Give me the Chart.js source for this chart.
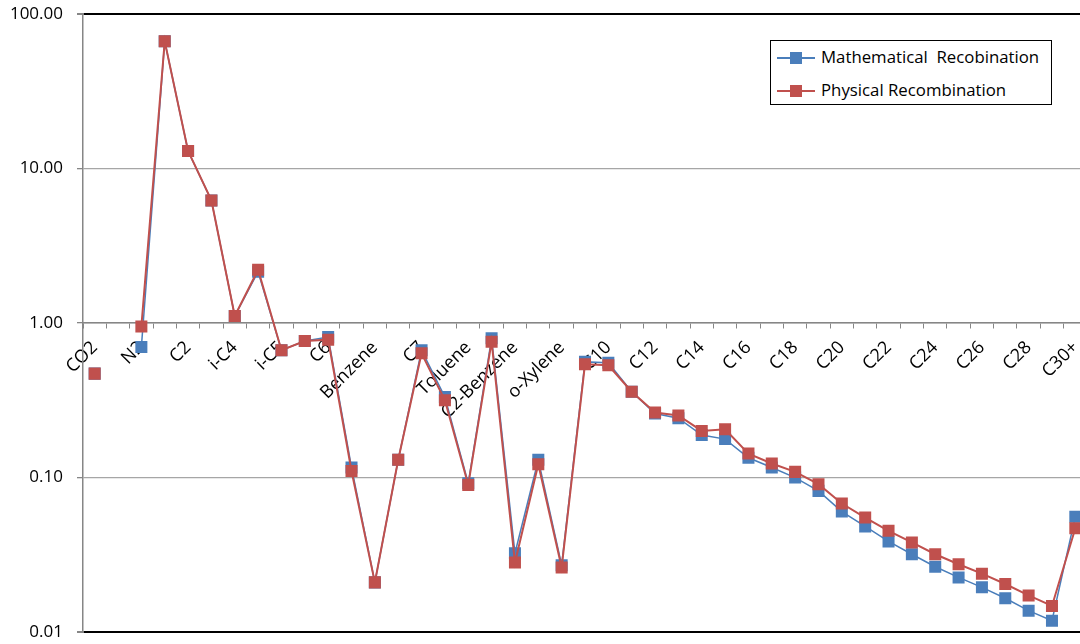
<!DOCTYPE html>
<html lang="en">
<head>
  <meta charset="UTF-8">
  <title>Mathematical vs Physical Recombination</title>
  <script src="https://cdn.jsdelivr.net/npm/chart.js"></script>
  <style>
    body {
      margin: 0;
      background: #fff;
      overflow: hidden;
      font-family: 'Open Sans', sans-serif;
    }

    #wrap {
      position: relative;
      width: 1100px;
      height: 644px;
    }

    #grafico {
      position: absolute;
      left: 0;
      top: -10px;
    }

    #legend {
      position: absolute;
      left: 770px;
      top: 40px;
      width: 280px;
      height: 63px;
      border: 1.5px solid #000;
      background: #fff;
    }

    .row {
      position: absolute;
      left: 6px;
      height: 20px;
      font-size: 16.8px;
      color: #000;
      white-space: pre;
      line-height: 20px;
    }

    .sample {
      position: absolute;
      left: 0;
      top: 9px;
      width: 38px;
      height: 2px;
    }

    .sample i {
      position: absolute;
      left: 13px;
      top: -5px;
      width: 12px;
      height: 12px;
    }

    .row span.txt {
      position: absolute;
      left: 44px;
      top: -1px;
    }
  </style>
</head>
<body>

  <div id="wrap">
    <canvas id="grafico" width="1100" height="666"></canvas>
    <div id="legend"></div>
  </div>

  <script>
    const categorias = ['CO2', 'H2S', 'N2', 'C1', 'C2', 'C3', 'i-C4', 'n-C4', 'i-C5', 'n-C5',
      'C6', 'M-C-Pentane', 'Benzene', 'Cyclohexane', 'C7', 'M-C-Hexane', 'Toluene', 'C8',
      'C2-Benzene', 'm&p-Xylene', 'o-Xylene', 'C9', 'C10', 'C11', 'C12', 'C13', 'C14', 'C15',
      'C16', 'C17', 'C18', 'C19', 'C20', 'C21', 'C22', 'C23', 'C24', 'C25', 'C26', 'C27',
      'C28', 'C29', 'C30+'];

    const mathematical = [0.47, null, 0.70, 66.8, 13.0, 6.22, 1.11, 2.15, 0.666, 0.765,
      0.81, 0.116, 0.0209, 0.130, 0.666, 0.332, 0.0917, 0.796, 0.0323, 0.130, 0.0270, 0.560,
      0.553, 0.359, 0.259, 0.242, 0.188, 0.177, 0.134, 0.116, 0.0997, 0.0818, 0.0601, 0.0481,
      0.0385, 0.0318, 0.0264, 0.0225, 0.0194, 0.0165, 0.0137, 0.0118, 0.0557];

    const physical = [0.47, null, 0.95, 66.8, 13.0, 6.22, 1.11, 2.21, 0.666, 0.765,
      0.78, 0.110, 0.0209, 0.130, 0.637, 0.316, 0.0894, 0.757, 0.0281, 0.1217, 0.0261, 0.541,
      0.532, 0.359, 0.263, 0.252, 0.200, 0.205, 0.1426, 0.123, 0.1086, 0.0904, 0.0677, 0.0549,
      0.0451, 0.0379, 0.0318, 0.0274, 0.0238, 0.0204, 0.0172, 0.0147, 0.0469];

    const yTicks = [0.01, 0.1, 1, 10, 100];

    const series = [
      { label: 'Mathematical  Recobination', data: mathematical, color: '#4A7EBB', width: 1.5, order: 2 },
      { label: 'Physical Recombination', data: physical, color: '#C0504D', width: 2, order: 1 }
    ];

    // leyenda en html
    const legend = document.getElementById('legend');
    series.forEach((s, i) => {
      const row = document.createElement('div');
      row.className = 'row';
      row.style.top = (7 + i * 33) + 'px';
      row.innerHTML = '<span class="sample" style="background:' + s.color + '"><i style="background:' +
        s.color + '"></i></span><span class="txt"></span>';
      row.querySelector('.txt').textContent = s.label;
      legend.appendChild(row);
    });

    const ctx = document.getElementById('grafico').getContext('2d');

    new Chart(ctx, {
      type: 'line',
      data: {
        labels: categorias,
        datasets: series.map(s => ({
          label: s.label,
          data: s.data,
          borderColor: s.color,
          borderWidth: s.width,
          backgroundColor: s.color,
          pointStyle: 'rect',
          pointRadius: 8.5,
          pointBackgroundColor: s.color,
          pointBorderColor: s.color,
          pointBorderWidth: 0,
          tension: 0,
          spanGaps: false,
          order: s.order
        }))
      },
      options: {
        responsive: false,
        animation: false,
        layout: { padding: { top: 3, bottom: 1, right: 13, left: 0 } },
        plugins: {
          legend: { display: false },
          tooltip: { enabled: false }
        },
        scales: {
          x: {
            type: 'category',
            offset: true,
            position: { y: 1 },
            border: { color: '#868686', width: 1.5 },
            grid: {
              offset: true,
              drawOnChartArea: false,
              drawTicks: true,
              tickLength: 5,
              color: '#868686'
            },
            ticks: {
              autoSkip: false,
              minRotation: 45,
              maxRotation: 45,
              padding: 9,
              color: '#000',
              font: { family: 'Open Sans', size: 18 },
              callback: function (v, i) {
                return i % 2 === 0 ? categorias[i] : '';
              }
            }
          },
          y: {
            type: 'logarithmic',
            min: 0.01,
            max: 100,
            afterBuildTicks: function (scale) {
              scale.ticks = yTicks.map(v => ({ value: v }));
            },
            afterFit: function (scale) {
              scale.width = 83;
            },
            border: { color: '#868686', width: 1.5 },
            grid: {
              color: c => (c.tick && (c.tick.value === 100 || c.tick.value === 0.01)) ? '#000' : '#a6a6a6',
              lineWidth: c => (c.tick && (c.tick.value === 100 || c.tick.value === 0.01)) ? 2 : 1.3,
              tickColor: '#868686',
              tickLength: 6
            },
            ticks: {
              padding: 14,
              color: '#000',
              font: { family: 'Open Sans', size: 17 },
              callback: v => Number(v).toFixed(2)
            }
          }
        }
      }
    });
  </script>

</body>
</html>
